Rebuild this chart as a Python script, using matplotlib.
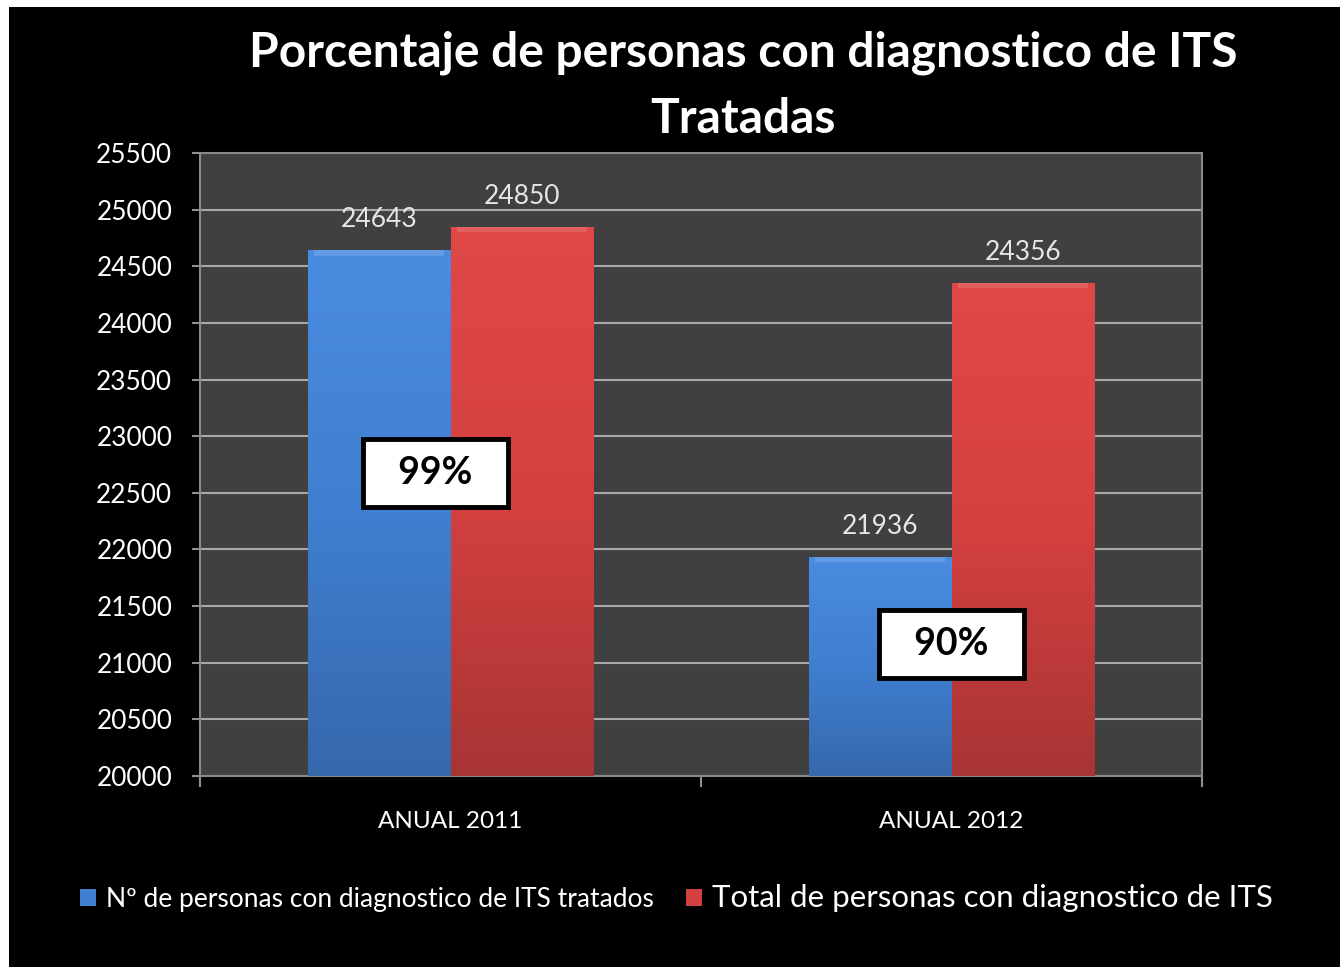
import numpy as np
import matplotlib
matplotlib.use('Agg')
import matplotlib.pyplot as plt
from matplotlib.patches import Patch, Rectangle
from matplotlib.colors import LinearSegmentedColormap

# data
categories = ['ANUAL 2011', 'ANUAL 2012']
tratados = [24643, 21936]
totales = [24850, 24356]
series_names = ['Nº de personas con diagnostico de ITS tratados',
                'Total de personas con diagnostico de ITS']
pct_y = [22675, 21165]  # where the percent boxes sit
pct_dx = [-0.03, 0.0]

plt.rcParams['font.family'] = ['Lato', 'DejaVu Sans']

fig = plt.figure(figsize=(13.4, 9.67), dpi=100, facecolor='black')
# white margins of the screenshot
fig.patches.append(Rectangle((0, 1 - 7 / 967), 1, 7 / 967, transform=fig.transFigure,
                             fc='white', ec='none', zorder=0))
fig.patches.append(Rectangle((0, 0), 9 / 1340, 1, transform=fig.transFigure,
                             fc='white', ec='none', zorder=0))

ax = fig.add_axes([200 / 1340, 1 - 776 / 967, 1002 / 1340, 623 / 967])
ax.set_facecolor('#404040')

x = np.arange(len(categories))
w = 0.285

blue_cm = LinearSegmentedColormap.from_list('b', ['#3668ac', '#3f7fd0', '#4a8ce0'])
red_cm = LinearSegmentedColormap.from_list('r', ['#a83434', '#d44040', '#e04848'])
grad = np.linspace(0, 1, 256).reshape(-1, 1)

bars_b = ax.bar(x - w / 2, tratados, w, bottom=0, color='#3f7fd0', zorder=2)
bars_r = ax.bar(x + w / 2, totales, w, bottom=0, color='#d44040', zorder=2)

for bars, cm in [(bars_b, blue_cm), (bars_r, red_cm)]:
    for b in bars:
        x0, y1 = b.get_x(), b.get_height()
        im = ax.imshow(grad, cmap=cm, origin='lower', aspect='auto',
                       extent=[x0, x0 + b.get_width(), 20000, y1], zorder=3)
        im.set_clip_path(b)
        # bevel highlight on top
        ax.add_patch(Rectangle((x0 + 0.012, y1 - 50), b.get_width() - 0.024, 50,
                               fc='white', alpha=0.14, ec='none', zorder=4))

for bars, vals in [(bars_b, tratados), (bars_r, totales)]:
    for b, v in zip(bars, vals):
        ax.annotate(str(v), (b.get_x() + b.get_width() / 2, v),
                    xytext=(0, 13), textcoords='offset points',
                    ha='center', va='bottom', color='#e6e6e6', fontsize=19)

for i in range(len(categories)):
    pct = round(100 * tratados[i] / totales[i])
    ax.text(x[i] + pct_dx[i], pct_y[i], '  %d%%  ' % pct, ha='center', va='center',
            fontsize=27, fontweight='bold', color='black', zorder=6,
            bbox=dict(boxstyle='square,pad=0.46', fc='white', ec='black', lw=3.5))

ax.set_ylim(20000, 25500)
ax.set_xlim(-0.5, 1.5)
ax.set_yticks(np.arange(20000, 25501, 500))
ax.yaxis.grid(True, color='#a8a8a8', lw=1.5, zorder=1)
ax.set_axisbelow(True)

ax.set_xticks(x)
ax.set_xticklabels(categories)
ax.set_xticks([-0.5, 0.5, 1.5], minor=True)
ax.tick_params(axis='x', which='major', length=0, pad=25, labelsize=17.5, labelcolor='white')
ax.tick_params(axis='x', which='minor', length=8, width=1.5, color='#909090')
ax.tick_params(axis='y', length=6, width=1.5, color='#909090', labelsize=18.8,
               labelcolor='white', pad=14)

for s in ax.spines.values():
    s.set_color('#8a8a8a')
    s.set_linewidth(1.5)

fig.text(0.5545, 1 - 86 / 967, 'Porcentaje de personas con diagnostico de ITS\nTratadas',
         ha='center', va='center', color='white', fontsize=34.5, fontweight='bold',
         linespacing=1.6)

handles = [Patch(fc='#3f7fd0'), Patch(fc='#d44040')]
leg = fig.legend(handles, series_names, loc='center', bbox_to_anchor=(0.505, 1 - 898 / 967),
                 ncol=2, frameon=False, handlelength=0.6, handleheight=0.6,
                 handletextpad=0.4, columnspacing=1.2, fontsize=19)
for t, fs in zip(leg.get_texts(), [19, 22.5]):
    t.set_color('white')
    t.set_fontsize(fs)

fig.savefig('out.png', dpi=100, facecolor=fig.get_facecolor())
